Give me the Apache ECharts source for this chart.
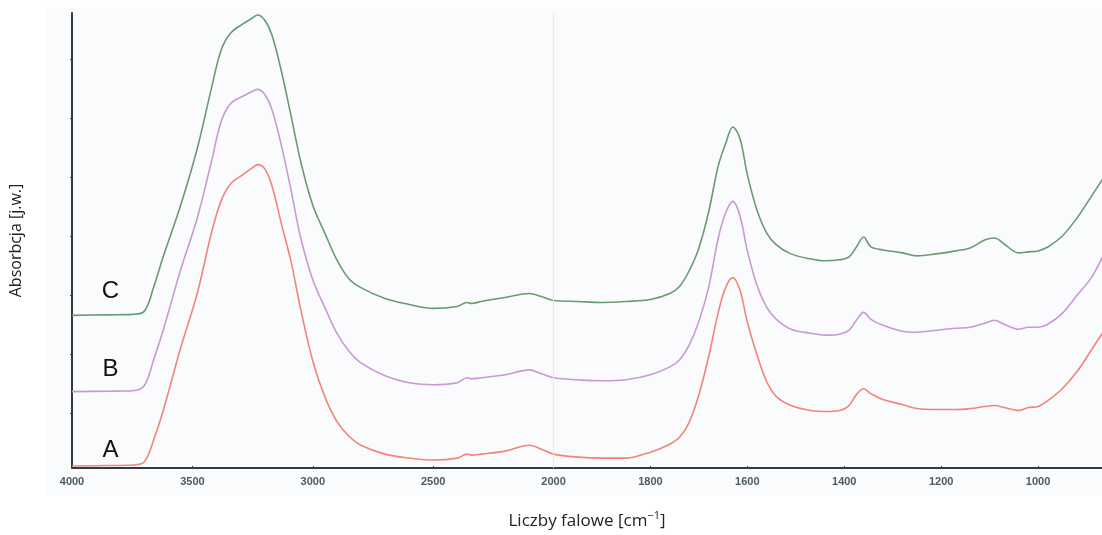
<!DOCTYPE html>
<html><head><meta charset="utf-8">
<script src="https://cdn.jsdelivr.net/npm/echarts@6/dist/echarts.min.js"></script>
<style>html,body{margin:0;padding:0;background:#fff}#c{width:1102px;height:535px}</style>
</head><body><div id="c"></div>
<script>
// wavenumbers [cm-1]
const wavenumbers = [4000,3850,3750,3700,3660,3620,3550,3480,3420,3380,3340,3290,3250,3230,3200,3170,3130,3090,3050,3000,2950,2900,2850,2800,2700,2600,2500,2400,2360,2340,2300,2200,2100,2050,2000,1950,1900,1850,1800,1760,1740,1720,1700,1680,1660,1645,1630,1615,1600,1580,1560,1540,1510,1470,1440,1410,1390,1375,1360,1345,1320,1280,1250,1210,1170,1140,1110,1090,1070,1040,1020,1000,980,950,920,890,866];
// absorbance (arbitrary units, offset spectra)
const seriesA = [0.2,0.25,0.3,0.6,2.9,5.9,12.0,17.6,23.8,27.0,28.7,29.6,30.3,30.6,30.2,28.5,24.6,20.8,16.0,10.8,7.2,4.7,3.2,2.3,1.4,1.0,0.8,1.0,1.4,1.3,1.4,1.7,2.3,1.9,1.4,1.1,1.0,1.0,1.6,2.4,3.1,4.6,7.4,11.2,15.7,18.2,19.2,17.9,14.7,11.4,8.7,7.2,6.3,5.8,5.7,5.8,6.3,7.4,8.0,7.5,6.9,6.4,6.0,5.9,5.9,6.0,6.2,6.3,6.1,5.8,6.1,6.2,6.8,8.0,9.7,11.9,13.7];
const seriesB = [7.7,7.75,7.8,8.3,11.0,14.0,19.9,25.2,31.0,35.0,36.8,37.5,38.0,38.2,37.7,36.2,32.5,28.0,23.2,19.0,16.2,13.6,11.8,10.6,9.3,8.6,8.4,8.6,9.1,9.0,9.1,9.4,9.9,9.5,9.1,8.9,8.8,8.9,9.4,10.2,10.9,12.4,14.8,18.2,23.2,25.7,26.9,25.4,21.9,18.4,16.2,15.0,14.0,13.6,13.4,13.5,13.9,14.9,15.7,15.0,14.4,13.8,13.7,13.9,14.1,14.2,14.6,14.9,14.5,14.0,14.2,14.2,14.5,15.6,17.4,19.2,21.4];
const seriesC = [15.4,15.45,15.5,15.8,18.3,21.4,26.4,32.2,38.4,42.2,43.9,44.8,45.4,45.7,45.2,43.7,40.0,35.5,30.9,26.5,23.7,21.0,19.1,18.2,17.1,16.5,16.1,16.3,16.7,16.6,16.8,17.2,17.6,17.3,16.9,16.8,16.7,16.8,17.0,17.6,18.3,19.9,22.2,25.8,30.5,32.7,34.4,33.2,29.6,26.0,23.7,22.5,21.6,21.1,20.9,21.0,21.3,22.3,23.3,22.3,22.0,21.7,21.4,21.6,21.9,22.2,23.0,23.2,22.6,21.7,21.8,21.9,22.3,23.4,25.2,27.4,29.2];
const seriesNames = ['A','B','C'];
const labelAnchor = [3840, 3840, 3840]; // wavenumber where curve letters sit
const labelValues = [1.8, 9.9, 17.8];
const xTickLabels = [4000,3500,3000,2500,2000,1800,1600,1400,1200,1000];
const yTicks = [5.5,11.45,17.4,23.35,29.3,35.25,41.2];

// FTIR axis: 500 cm-1 steps above 2000, 200 cm-1 steps below (same length per step, compressed scale)
function u(w){ return w >= 2000 ? (4000 - w) / 2000 * 482 : 482 + (2000 - w) / 200 * 97; }
function inv(x){ return x <= 482 ? 4000 - x / 482 * 2000 : 2000 - (x - 482) / 97 * 200; }

const colors = ['#f3837c', '#c999d6', '#6a9a72'];
const dataSets = [seriesA, seriesB, seriesC];
const chart = echarts.init(document.getElementById('c'), null, {renderer:'canvas'});
const series = dataSets.map((d, i) => ({
  name: seriesNames[i], type: 'line', smooth: 0.35, symbol: 'none',
  data: d.map((v, k) => [u(wavenumbers[k]), v]),
  lineStyle: {color: colors[i], width: 1.6},
  z: 3,
  markPoint: {
    symbol: 'circle', symbolSize: 0, silent: true,
    data: [{coord: [u(labelAnchor[i]), labelValues[i]],
      label: {show: true, formatter: seriesNames[i], color: '#111', fontSize: 24,
        fontFamily: 'Liberation Sans, Arial, sans-serif', position: 'inside'}}]
  },
  markLine: i === 0 ? {silent: true, symbol: 'none', label: {show: false},
    lineStyle: {color: '#e8e8ea', width: 1, type: 'solid'},
    data: [{xAxis: u(2000)}]} : undefined
}));

chart.setOption({
  backgroundColor: '#fff',
  animation: false,
  graphic: [{type: 'rect', z: -10, shape: {x: 46, y: 7, width: 1056, height: 488}, style: {fill: '#fafbfc'}}],
  grid: {left: 71, right: 0, top: 13, bottom: 63},
  xAxis: {
    type: 'value', min: 0, max: 1031,
    axisLine: {lineStyle: {color: '#2e3b40', width: 2}},
    axisTick: {show: true, inside: true, length: 2, customValues: xTickLabels.map(u), lineStyle: {color: '#2e3b40'}},
    axisLabel: {customValues: xTickLabels.map(u), formatter: v => String(Math.round(inv(v) / 100) * 100),
      color: '#4d5a60', fontSize: 11, fontFamily: 'Liberation Sans Narrow, Liberation Sans, Arial', margin: 8, fontWeight: 'bold'},
    splitLine: {show: false},
    name: '{a|Liczby falowe [cm}{s|−1}{a|]}',
    nameLocation: 'middle', nameGap: 42,
    nameTextStyle: {rich: {
      a: {fontSize: 17, color: '#222', fontFamily: 'Open Sans, Noto Sans, sans-serif', verticalAlign: 'bottom'},
      s: {fontSize: 11, color: '#222', fontFamily: 'Open Sans, Noto Sans, sans-serif', verticalAlign: 'top', padding: [0,0,9,0]}
    }}
  },
  yAxis: {
    type: 'value', min: 0, max: 45.9,
    axisLine: {show: true, lineStyle: {color: '#2e3b40', width: 2}},
    axisTick: {show: true, length: 2, customValues: yTicks, lineStyle: {color: '#2e3b40'}},
    axisLabel: {show: false},
    splitLine: {show: false},
    name: 'Absorbcja [j.w.]', nameLocation: 'middle', nameGap: 48,
    nameTextStyle: {fontSize: 16, color: '#222', fontFamily: 'Open Sans, Noto Sans, sans-serif'}
  },
  series: series
});
</script></body></html>
